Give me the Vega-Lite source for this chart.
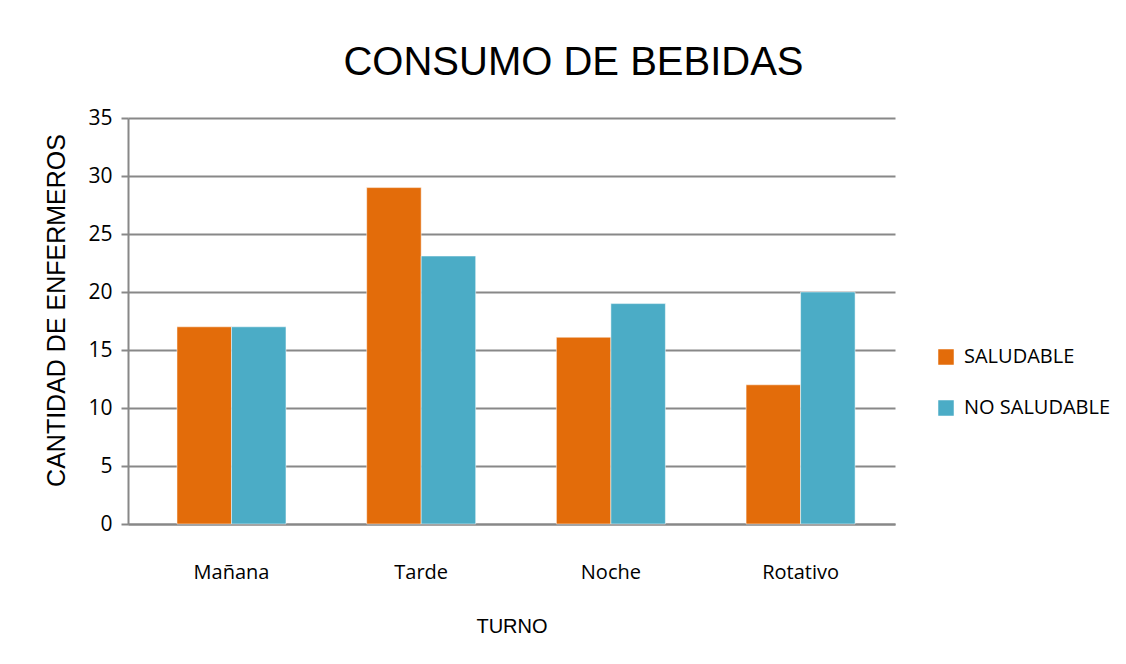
{
  "$schema": "https://vega.github.io/schema/vega-lite/v6.json",
  "width": 767,
  "height": 406,
  "autosize": {"type": "none"},
  "padding": {"left": 128, "top": 118, "right": 231, "bottom": 140},
  "background": "white",
  "title": {
    "text": "CONSUMO DE BEBIDAS",
    "font": "Liberation Sans",
    "fontSize": 40,
    "fontWeight": "normal",
    "color": "black",
    "anchor": "middle",
    "dx": 62,
    "offset": 24
  },
  "data": {
    "values": [
      {"turno": "Mañana", "tipo": "SALUDABLE", "cantidad": 17},
      {"turno": "Mañana", "tipo": "NO SALUDABLE", "cantidad": 17},
      {"turno": "Tarde", "tipo": "SALUDABLE", "cantidad": 29},
      {"turno": "Tarde", "tipo": "NO SALUDABLE", "cantidad": 23.1},
      {"turno": "Noche", "tipo": "SALUDABLE", "cantidad": 16.1},
      {"turno": "Noche", "tipo": "NO SALUDABLE", "cantidad": 19},
      {"turno": "Rotativo", "tipo": "SALUDABLE", "cantidad": 12},
      {"turno": "Rotativo", "tipo": "NO SALUDABLE", "cantidad": 20}
    ]
  },
  "mark": {"type": "bar"},
  "encoding": {
    "x": {
      "field": "turno",
      "type": "nominal",
      "sort": ["Mañana", "Tarde", "Noche", "Rotativo"],
      "scale": {"paddingInner": 0.4254, "paddingOuter": 0.2343, "align": 0.551},
      "axis": {
        "title": "TURNO",
        "titleFont": "Liberation Sans",
        "titleFontSize": 20,
        "titleFontWeight": "normal",
        "titleColor": "black",
        "titlePadding": 34,
        "labelFont": "Open Sans",
        "labelFontSize": 20,
        "labelColor": "black",
        "labelAngle": 0,
        "labelPadding": 38,
        "ticks": false,
        "tickSize": 0,
        "domainColor": "#888888",
        "domainWidth": 2,
        "grid": false
      }
    },
    "xOffset": {
      "field": "tipo",
      "type": "nominal",
      "sort": ["SALUDABLE", "NO SALUDABLE"],
      "scale": {"paddingInner": 0, "paddingOuter": 0}
    },
    "y": {
      "field": "cantidad",
      "type": "quantitative",
      "scale": {"domain": [0, 35], "nice": false},
      "axis": {
        "title": "CANTIDAD DE ENFERMEROS",
        "titleFont": "Liberation Sans",
        "titleFontSize": 25,
        "titleFontWeight": "normal",
        "titleColor": "black",
        "titlePadding": 18,
        "titleY": 192,
        "values": [0, 5, 10, 15, 20, 25, 30, 35],
        "labelFont": "Open Sans",
        "labelFontSize": 21,
        "labelColor": "black",
        "labelPadding": 9,
        "tickSize": 7,
        "tickColor": "#888888",
        "tickWidth": 2,
        "domainColor": "#888888",
        "domainWidth": 2,
        "gridColor": "#888888",
        "gridWidth": 2,
        "gridOpacity": 1
      }
    },
    "color": {
      "field": "tipo",
      "type": "nominal",
      "sort": ["SALUDABLE", "NO SALUDABLE"],
      "scale": {"domain": ["SALUDABLE", "NO SALUDABLE"], "range": ["#E36C0A", "#4BACC6"]},
      "legend": {
        "title": null,
        "orient": "none",
        "legendX": 808,
        "legendY": 229,
        "symbolType": "square",
        "symbolSize": 256,
        "symbolStrokeWidth": 0,
        "labelFont": "Open Sans",
        "labelFontSize": 20,
        "labelColor": "black",
        "labelOffset": 8,
        "rowPadding": 31
      }
    }
  },
  "config": {
    "view": {"stroke": null},
    "bar": {"stroke": "white", "strokeWidth": 0.5}
  }
}
